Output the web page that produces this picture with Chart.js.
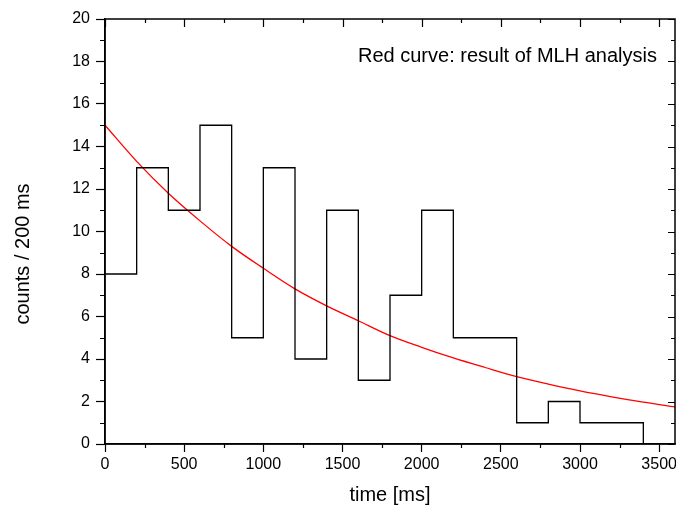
<!DOCTYPE html>
<html>
<head>
<meta charset="utf-8">
<script src="https://cdn.jsdelivr.net/npm/chart.js@4"></script>
<style>
  html, body { margin: 0; padding: 0; background: #fff; }
  #wrap { width: 676px; height: 506px; }
</style>
</head>
<body>
<div id="wrap"><canvas id="chart" width="676" height="506"></canvas></div>
<script>
// histogram: left edge of each 200 ms bin and its counts
const binStarts = [0, 200, 400, 600, 800, 1000, 1200, 1400, 1600, 1800, 2000, 2200, 2400, 2600, 2800, 3000, 3200];
const counts = [8, 13, 11, 15, 5, 13, 4, 11, 3, 7, 11, 5, 5, 1, 2, 1, 1];
const binWidth = 200;

// red curve (MLH result)
const fitTimes = [0, 200, 400, 600, 800, 1000, 1200, 1400, 1600, 1800, 2000, 2200, 2400, 2600, 2800, 3000, 3200, 3400, 3600];
const fitValues = [15, 13.3, 11.8, 10.5, 9.3, 8.27, 7.3, 6.5, 5.8, 5.1, 4.55, 4.05, 3.6, 3.17, 2.82, 2.5, 2.22, 1.97, 1.75];

const xTicks = [0, 500, 1000, 1500, 2000, 2500, 3000, 3500];
const yTicks = [0, 2, 4, 6, 8, 10, 12, 14, 16, 18, 20];

const FONT = "'Liberation Sans', Arial, sans-serif";

const histPoints = binStarts.map((t, i) => ({ x: t, y: counts[i] }));
histPoints.push({ x: binStarts[binStarts.length - 1] + binWidth, y: 0 });
const fitPoints = fitTimes.map((t, i) => ({ x: t, y: fitValues[i] }));

// frame, minor ticks, top/right ticks, titles and the note
const framePlugin = {
  id: 'frame',
  afterDraw(chart) {
    const ctx = chart.ctx;
    const a = chart.chartArea;
    const xs = chart.scales.x, ys = chart.scales.y;
    ctx.save();
    ctx.strokeStyle = '#000';
    ctx.lineWidth = 1.5;
    ctx.strokeRect(a.left, a.top, a.right - a.left, a.bottom - a.top);

    ctx.lineWidth = 1.2;
    ctx.beginPath();
    // left minor ticks (outward) and right ticks (inward)
    for (let v = 0; v <= 20; v++) {
      const y = Math.round(ys.getPixelForValue(v)) + 0.5;
      if (v % 2) { ctx.moveTo(a.left - 5, y); ctx.lineTo(a.left, y); }
      const len = v % 2 ? 4 : 7;
      ctx.moveTo(a.right, y); ctx.lineTo(a.right - len, y);
    }
    // bottom minor ticks (outward) and top ticks (inward)
    for (let t = 0; t <= 3500; t += 250) {
      const x = Math.round(xs.getPixelForValue(t)) + 0.5;
      const minor = t % 500 !== 0;
      if (minor) { ctx.moveTo(x, a.bottom); ctx.lineTo(x, a.bottom + 4); }
      ctx.moveTo(x, a.top); ctx.lineTo(x, a.top + (minor ? 4 : 8));
    }
    ctx.stroke();

    ctx.fillStyle = '#000';
    ctx.font = '20px ' + FONT;
    ctx.textAlign = 'right';
    ctx.textBaseline = 'alphabetic';
    ctx.fillText('Red curve: result of MLH analysis', 657, 62);

    ctx.textAlign = 'center';
    ctx.fillText('time [ms]', (a.left + a.right) / 2, 501);

    ctx.translate(29, 254);
    ctx.rotate(-Math.PI / 2);
    ctx.fillText('counts / 200 ms', 0, 0);
    ctx.restore();
  }
};

Chart.defaults.color = '#000';
Chart.defaults.font.family = FONT;

new Chart(document.getElementById('chart').getContext('2d'), {
  type: 'line',
  data: {
    datasets: [{
      label: 'counts',
      data: histPoints,
      stepped: 'before',
      borderColor: '#000',
      borderWidth: 1.3,
      pointRadius: 0,
      fill: false
    }, {
      label: 'MLH fit',
      data: fitPoints,
      borderColor: '#ff0000',
      borderWidth: 1.3,
      pointRadius: 0,
      cubicInterpolationMode: 'monotone',
      fill: false
    }]
  },
  options: {
    responsive: false,
    animation: false,
    layout: { padding: { top: 19, right: 1, left: 0, bottom: 0 } },
    plugins: { legend: { display: false }, tooltip: { enabled: false } },
    scales: {
      x: {
        type: 'linear',
        min: 0,
        max: 3600,
        afterBuildTicks: s => { s.ticks = xTicks.map(v => ({ value: v })); },
        afterFit: s => { s.height = 62; s.paddingLeft = 0; s.paddingRight = 0; },
        ticks: { font: { size: 16 }, padding: 3, maxRotation: 0, autoSkip: false, callback: v => String(v) },
        grid: { drawOnChartArea: false, tickLength: 8, tickColor: '#000', tickWidth: 1.2 },
        border: { color: '#000', width: 1.5 }
      },
      y: {
        min: 0,
        max: 20,
        afterBuildTicks: s => { s.ticks = yTicks.map(v => ({ value: v })); },
        afterFit: s => { s.width = 105; s.paddingTop = 0; s.paddingBottom = 0; },
        ticks: { font: { size: 16 }, padding: 6, callback: v => String(v) },
        grid: { drawOnChartArea: false, tickLength: 9, tickColor: '#000', tickWidth: 1.2 },
        border: { color: '#000', width: 1.5 }
      }
    }
  },
  plugins: [framePlugin]
});
</script>
</body>
</html>
